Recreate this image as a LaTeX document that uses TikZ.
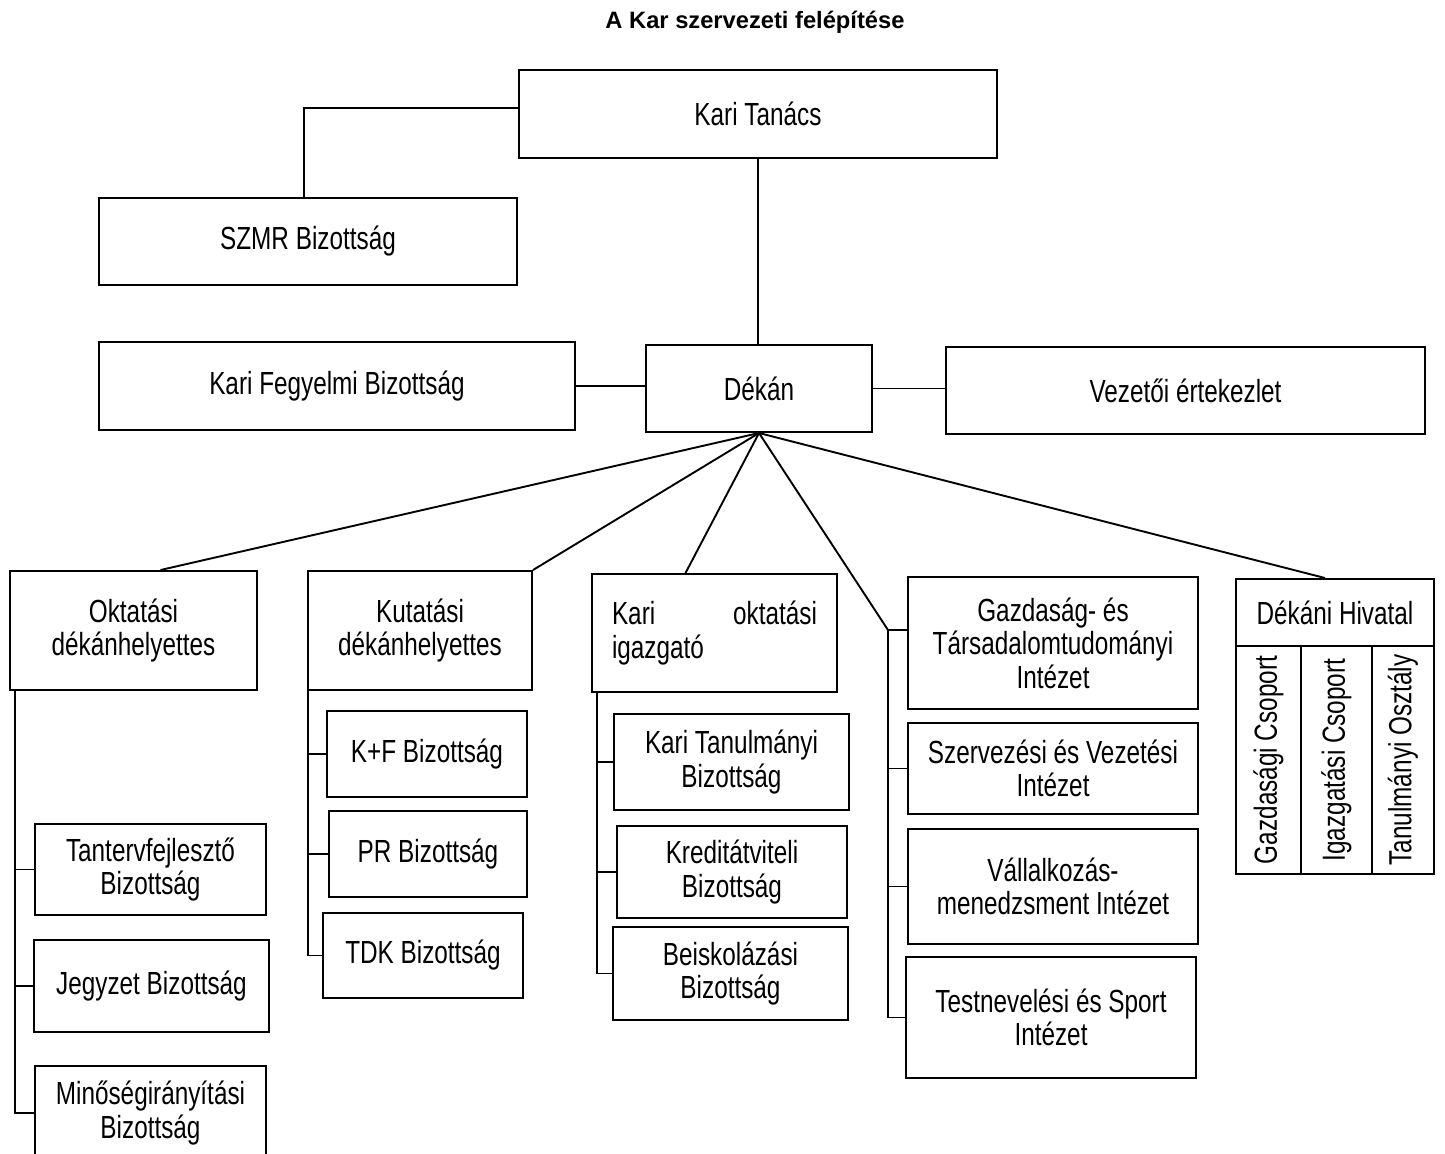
\documentclass[tikz,border=0pt]{standalone}
\usepackage{fontspec}
\setmainfont{Liberation Sans}[FakeStretch=0.76]
\newfontfamily\titlefont{Liberation Sans}
\usetikzlibrary{calc}
\begin{document}
\begin{tikzpicture}[x=0.5pt,y=-0.5pt,
  box/.style={draw,line width=1pt,align=center,inner sep=2pt,font=\fontsize{16}{16.8}\selectfont},
  conn/.style={line width=0.95pt}]
\useasboundingbox (0,0) rectangle (1445,1153);
\clip (0,0) rectangle (1445,1153);

\node[font=\titlefont\bfseries\fontsize{11.85}{14}\selectfont] (title) at (755,22) {A Kar szervezeti felépítése};

% top level
\node[box,minimum width=239pt,minimum height=44pt] (kt) at (758,114) {Kari Tanács};
\node[box,minimum width=209pt,minimum height=43.5pt] (szmr) at (308,241.5) {SZMR Bizottság};
\node[box,minimum width=113pt,minimum height=43.5pt] (dekan) at (759,388.5) {Dékán};
\node[box,minimum width=238pt,minimum height=44pt] (kfb) at (337,386) {Kari Fegyelmi Bizottság};
\node[box,minimum width=239.5pt,minimum height=43.5pt] (vez) at (1185.5,390.5) {Vezetői értekezlet};

% second level
\node[box,minimum width=123.5pt,minimum height=59.5pt] (okt) at (133.5,630.5) {Oktatási\\dékánhelyettes};
\node[box,minimum width=112pt,minimum height=59.5pt] (kut) at (420,630.5) {Kutatási\\dékánhelyettes};
\node[box,minimum width=122.5pt,minimum height=59pt,align=left] (koi) at (714.5,633) {\parbox{102.5pt}{Kari\hfill oktatási\\igazgató}};
\node[box,minimum width=145pt,minimum height=66pt] (gt) at (1053,643) {Gazdaság- és\\Társadalomtudományi\\Intézet};
\node[box,minimum width=145pt,minimum height=45.5pt] (szv) at (1053,768.5) {Szervezési és Vezetési\\Intézet};
\node[box,minimum width=145pt,minimum height=57.5pt] (vall) at (1053,886.5) {Vállalkozás-\\menedzsment Intézet};
\node[box,minimum width=145pt,minimum height=60.5pt] (test) at (1051,1017.5) {Testnevelési és Sport\\Intézet};

% Dekani Hivatal
\node[box,minimum width=99pt,minimum height=33.5pt] (dh) at (1335,612.5) {Dékáni Hivatal};
\node[box,rotate=90,minimum width=114pt,minimum height=32.5pt,inner sep=0pt] (gcs) at (1268.5,760) {Gazdasági Csoport};
\node[box,rotate=90,minimum width=114pt,minimum height=35.5pt,inner sep=0pt] (igcs) at (1336.5,760) {Igazgatási Csoport};
\node[box,rotate=90,minimum width=114pt,minimum height=31pt,inner sep=0pt] (tano) at (1403,760) {Tanulmányi Osztály};

% Oktatasi group
\node[box,minimum width=115.5pt,minimum height=45.5pt] (tanterv) at (150.5,869.5) {Tantervfejlesztő\\Bizottság};
\node[box,minimum width=117.5pt,minimum height=46pt] (jegyzet) at (151.5,986) {Jegyzet Bizottság};
\node[box,minimum width=115.5pt,minimum height=47pt] (mino) at (150.5,1113) {Minőségirányítási\\Bizottság};

% Kutatasi group
\node[box,minimum width=100pt,minimum height=43pt] (kf) at (427,754) {K+F Bizottság};
\node[box,minimum width=99pt,minimum height=43pt] (pr) at (428,854) {PR Bizottság};
\node[box,minimum width=100pt,minimum height=42.5pt] (tdk) at (423,955.5) {TDK Bizottság};

% Kari oktatasi igazgato group
\node[box,minimum width=117.5pt,minimum height=48pt] (ktb) at (731.5,762) {Kari Tanulmányi\\Bizottság};
\node[box,minimum width=115pt,minimum height=46pt] (kred) at (732,872) {Kreditátviteli\\Bizottság};
\node[box,minimum width=117.5pt,minimum height=46.5pt] (beisk) at (730.5,973.5) {Beiskolázási\\Bizottság};

% connectors top
\draw[conn] ([yshift=3pt]kt.west) -| ([xshift=-2pt]szmr.north);
\draw[conn] (kt.south) -- (kt.south |- dekan.north);
\draw[conn] (kfb.east) -- (kfb.east -| dekan.west);
\draw[conn] (dekan.east) -- (dekan.east -| vez.west);

% fan
\coordinate (insttop) at (888,630);
\draw[conn] (dekan.south) -- ($(okt.north)+(27,0)$);
\draw[conn] (dekan.south) -- (kut.north east);
\draw[conn] (dekan.south) -- ($(koi.north)+(-29,0)$);
\draw[conn] (dekan.south) -- (insttop);
\draw[conn] (dekan.south) -- ($(dh.north)+(-10,0)$);

% institutes bracket
\draw[conn] (insttop) -- (insttop -| gt.west);
\draw[conn] (insttop) |- (test.west);
\draw[conn] (insttop |- szv.west) -- (szv.west);
\draw[conn] (insttop |- vall.west) -- (vall.west);

% oktatasi bracket
\coordinate (okttrunk) at (15,690);
\draw[conn] (okttrunk) |- (mino.west);
\draw[conn] (okttrunk |- tanterv.west) -- (tanterv.west);
\draw[conn] (okttrunk |- jegyzet.west) -- (jegyzet.west);

% kutatasi bracket
\coordinate (kuttrunk) at (308,690);
\draw[conn] (kuttrunk) |- (tdk.west);
\draw[conn] (kuttrunk |- kf.west) -- (kf.west);
\draw[conn] (kuttrunk |- pr.west) -- (pr.west);

% kari oktatasi igazgato bracket
\coordinate (koitrunk) at (597,692);
\draw[conn] (koitrunk) |- (beisk.west);
\draw[conn] (koitrunk |- ktb.west) -- (ktb.west);
\draw[conn] (koitrunk |- kred.west) -- (kred.west);
\end{tikzpicture}
\end{document}
